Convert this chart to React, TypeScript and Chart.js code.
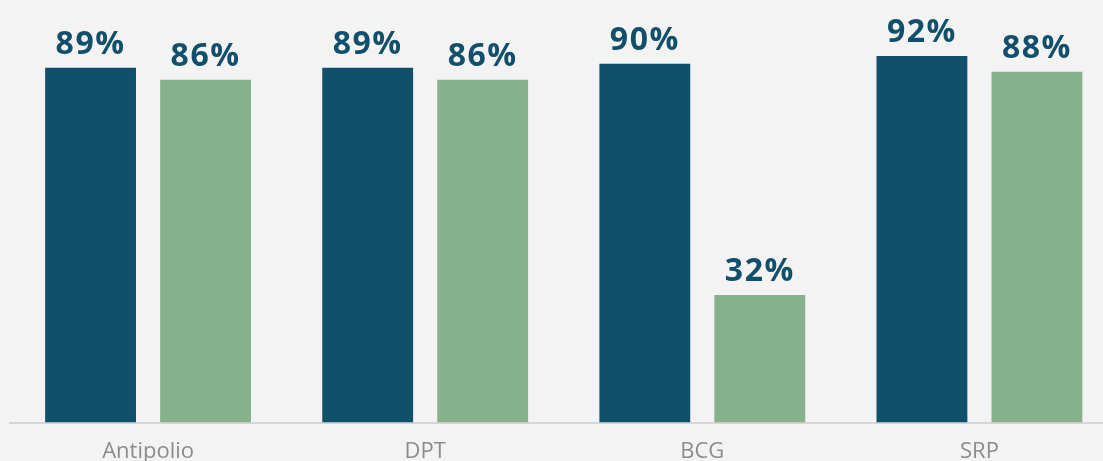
import React, { useEffect, useRef } from "react";
import { Chart, registerables } from "chart.js";

Chart.register(...registerables);

const categories = ["Antipolio", "DPT", "BCG", "SRP"];
const seriesA = [89, 89, 90, 92];
const seriesB = [86, 86, 32, 88];

const DARK = "#124f6b";
const GREEN = "#87b08c";

const valueLabels = {
  id: "valueLabels",
  afterDatasetsDraw(chart: any) {
    const ctx = chart.ctx;
    ctx.save();
    ctx.font = "bold 32px 'Open Sans'";
    (ctx as any).letterSpacing = "1.5px";
    ctx.fillStyle = DARK;
    ctx.textAlign = "center";
    ctx.textBaseline = "alphabetic";
    chart.data.datasets.forEach((ds: any, i: number) => {
      const meta = chart.getDatasetMeta(i);
      meta.data.forEach((bar: any, j: number) => {
        ctx.fillText(ds.data[j] + "%", bar.x, bar.y - 14);
      });
    });
    ctx.restore();
  },
};

export default function App() {
  const ref = useRef<HTMLCanvasElement>(null);
  useEffect(() => {
    if (!ref.current) return;
    const chart = new Chart(ref.current, {
      type: "bar",
      data: {
        labels: categories,
        datasets: [
          { data: seriesA, backgroundColor: DARK },
          { data: seriesB, backgroundColor: GREEN },
        ],
      },
      options: {
        animation: false,
        responsive: false,
        devicePixelRatio: 1,
        layout: { padding: { left: 9.5, right: 0, top: 22, bottom: 1 } },
        plugins: { legend: { display: false }, tooltip: { enabled: false } },
        datasets: { bar: { categoryPercentage: 0.83, barPercentage: 0.79 } },
        scales: {
          x: {
            grid: { display: false, drawTicks: false },
            border: { display: true, color: "#d6d6d6", width: 2 },
            ticks: {
              color: "#8c8c8c",
              font: { family: "'Open Sans'", size: 22 },
              padding: 16,
            },
          },
          y: { display: false, min: 0, max: 100.5 },
        },
      },
      plugins: [valueLabels],
    });
    return () => chart.destroy();
  }, []);
  return (
    <div
      style={{
        position: "fixed",
        left: 0,
        top: 0,
        width: 1103,
        height: 461,
        overflow: "hidden",
        background: "#f3f3f3",
      }}
    >
      <canvas ref={ref} width={1118} height={482} style={{ display: "block" }} />
    </div>
  );
}
